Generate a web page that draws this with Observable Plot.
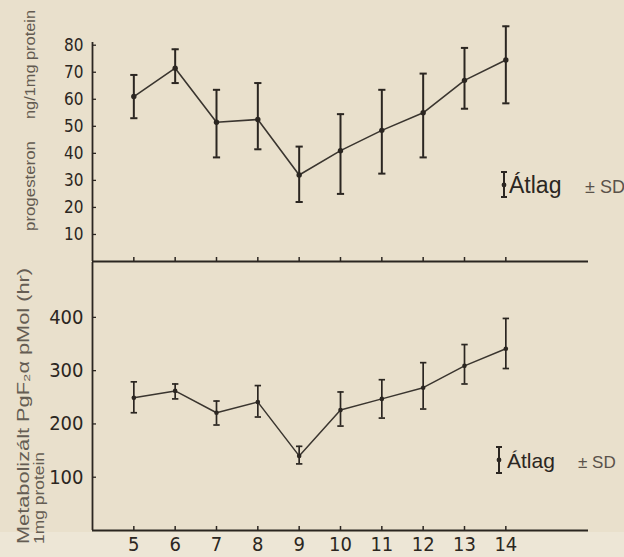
<!DOCTYPE html>
<html><head><meta charset="utf-8">
<script src="https://cdn.jsdelivr.net/npm/d3@7"></script>
<script src="https://cdn.jsdelivr.net/npm/@observablehq/plot@0.6"></script>
<style>
body{margin:0;background:#e9e0cc;}
#wrap{position:relative;width:624px;height:557px;overflow:hidden;background:#e9e0cc;}
#strip{position:absolute;left:0;top:532px;width:624px;height:25px;background:#ede6d6;}
.panel{position:absolute;left:0;}
#overlay{position:absolute;left:0;top:0;pointer-events:none;}
</style></head><body><div id="wrap"><div id="strip"></div></div>
<script>
const days = [5,6,7,8,9,10,11,12,13,14];
const progMean = [61,71.5,51.5,52.5,32,41,48.5,55,67,74.5];
const progLow  = [53,66,38.5,41.5,22,25,32.5,38.5,56.5,58.5];
const progHigh = [69,78.5,63.5,66,42.5,54.5,63.5,69.5,79,87];
const pgMean = [249,262,221,241,140,226,247,268,309,341];
const pgLow  = [221,247,198,213,125,196,211,228,275,304];
const pgHigh = [279,275,243,272,158,260,283,315,349,398];
const progTicks = [10,20,30,40,50,60,70,80];
const pgTicks = [100,200,300,400];
const progTitleA = "progesteron";
const progTitleB = "ng/1mg protein";
const pgTitle1 = "Metabolizált PgF₂α pMol (hr)";
const pgTitle2 = "1mg protein";
const legendMean = "Átlag";
const legendSD = "± SD";

const ink = "#2b2621";
const lineInk = "#3a352f";
const fontCond = "'DejaVu Sans Condensed','DejaVu Sans',sans-serif";
const hcap = {draw(ctx, size){ const w = Math.sqrt(size/Math.PI); ctx.moveTo(-w,0); ctx.lineTo(w,0);} };

const progData = days.map((d,i)=>({day:d, mean:progMean[i], lo:progLow[i], hi:progHigh[i]}));
const pgData = days.map((d,i)=>({day:d, mean:pgMean[i], lo:pgLow[i], hi:pgHigh[i]}));

const wrap = document.getElementById("wrap");

const topPlot = Plot.plot({
  width:624, height:264, marginLeft:92, marginRight:36, marginTop:42, marginBottom:3,
  x:{domain:[4,16]}, y:{domain:[0,81]},
  style:{background:"transparent", color:ink, fontFamily:fontCond, overflow:"visible"},
  marks:[
    Plot.ruleY([0],{stroke:ink,strokeWidth:1.8}),
    Plot.ruleX([4],{stroke:ink,strokeWidth:1.8}),
    Plot.axisX(days,{tickSize:-4, tickFormat:()=>"", label:null, stroke:ink, strokeWidth:1.5}),
    Plot.axisY(progTicks,{tickSize:-4, tickPadding:13, fontSize:17, label:null, stroke:ink, strokeWidth:1.3}),
    Plot.ruleX(progData,{x:"day",y1:"lo",y2:"hi",stroke:ink,strokeWidth:2}),
    Plot.dot(progData,{x:"day",y:"lo",symbol:hcap,r:3.6,stroke:ink,strokeWidth:2}),
    Plot.dot(progData,{x:"day",y:"hi",symbol:hcap,r:3.6,stroke:ink,strokeWidth:2}),
    Plot.line(progData,{x:"day",y:"mean",stroke:lineInk,strokeWidth:1.6}),
    Plot.dot(progData,{x:"day",y:"mean",r:2.7,fill:ink})
  ]
});
topPlot.classList.add("panel"); topPlot.style.top = "0px";
wrap.appendChild(topPlot);

const botPlot = Plot.plot({
  width:624, height:295, marginLeft:92, marginRight:36, marginTop:0, marginBottom:27,
  x:{domain:[4,16]}, y:{domain:[0,503]},
  style:{background:"transparent", color:ink, fontFamily:fontCond, overflow:"visible"},
  marks:[
    Plot.ruleY([0],{stroke:ink,strokeWidth:1.8}),
    Plot.ruleX([4],{stroke:ink,strokeWidth:1.8}),
    Plot.axisX(days,{tickSize:-4, tickPadding:10, fontSize:20, label:null, stroke:ink, strokeWidth:1.5}),
    Plot.axisY(pgTicks,{tickSize:-4, tickPadding:13, fontSize:20, label:null, stroke:ink, strokeWidth:1.3}),
    Plot.ruleX(pgData,{x:"day",y1:"lo",y2:"hi",stroke:ink,strokeWidth:1.7}),
    Plot.dot(pgData,{x:"day",y:"lo",symbol:hcap,r:3.2,stroke:ink,strokeWidth:1.7}),
    Plot.dot(pgData,{x:"day",y:"hi",symbol:hcap,r:3.2,stroke:ink,strokeWidth:1.7}),
    Plot.line(pgData,{x:"day",y:"mean",stroke:lineInk,strokeWidth:1.5}),
    Plot.dot(pgData,{x:"day",y:"mean",r:2.3,fill:ink})
  ]
});
botPlot.classList.add("panel"); botPlot.style.top = "262px";
wrap.appendChild(botPlot);

// Overlay: axis titles and legends
const NS = "http://www.w3.org/2000/svg";
const ov = document.createElementNS(NS,"svg");
ov.setAttribute("id","overlay"); ov.setAttribute("width",624); ov.setAttribute("height",557);
function el(tag, attrs, text){
  const e = document.createElementNS(NS,tag);
  for (const k in attrs) e.setAttribute(k, attrs[k]);
  if (text != null) e.textContent = text;
  ov.appendChild(e); return e;
}
const sans = "'Liberation Sans',Arial,sans-serif";
// top title
el("text",{transform:"translate(35,231) rotate(-90)", "font-family":sans, "font-size":15, fill:"#625a50", textLength:90, lengthAdjust:"spacingAndGlyphs"}, progTitleA);
el("text",{transform:"translate(35,119) rotate(-90)", "font-family":sans, "font-size":15, fill:"#625a50", textLength:109, lengthAdjust:"spacingAndGlyphs"}, progTitleB);
// bottom title
el("text",{transform:"translate(29,544) rotate(-90)", "font-family":sans, "font-size":17, fill:"#655d53", textLength:276, lengthAdjust:"spacingAndGlyphs"}, pgTitle1);
el("text",{transform:"translate(44,544) rotate(-90)", "font-family":sans, "font-size":15, fill:"#655d53", textLength:92, lengthAdjust:"spacingAndGlyphs"}, pgTitle2);

function legend(x, y1, y2, ym, tx, ty, fs, sx, sfs){
  el("line",{x1:x,x2:x,y1:y1,y2:y2,stroke:ink,"stroke-width":2});
  el("line",{x1:x-3,x2:x+3,y1:y1,y2:y1,stroke:ink,"stroke-width":2});
  el("line",{x1:x-3,x2:x+3,y1:y2,y2:y2,stroke:ink,"stroke-width":2});
  el("circle",{cx:x,cy:ym,r:2.4,fill:ink});
  el("text",{x:tx,y:ty,"font-family":sans,"font-size":fs,fill:ink}, legendMean);
  el("text",{x:sx,y:ty,"font-family":sans,"font-size":sfs,fill:"#5a524a"}, legendSD);
}
legend(504, 172, 197, 185, 509, 193, 23, 585, 18);
legend(499, 447, 473, 460, 507, 468, 21, 578, 17);
wrap.appendChild(ov);
</script></body></html>
